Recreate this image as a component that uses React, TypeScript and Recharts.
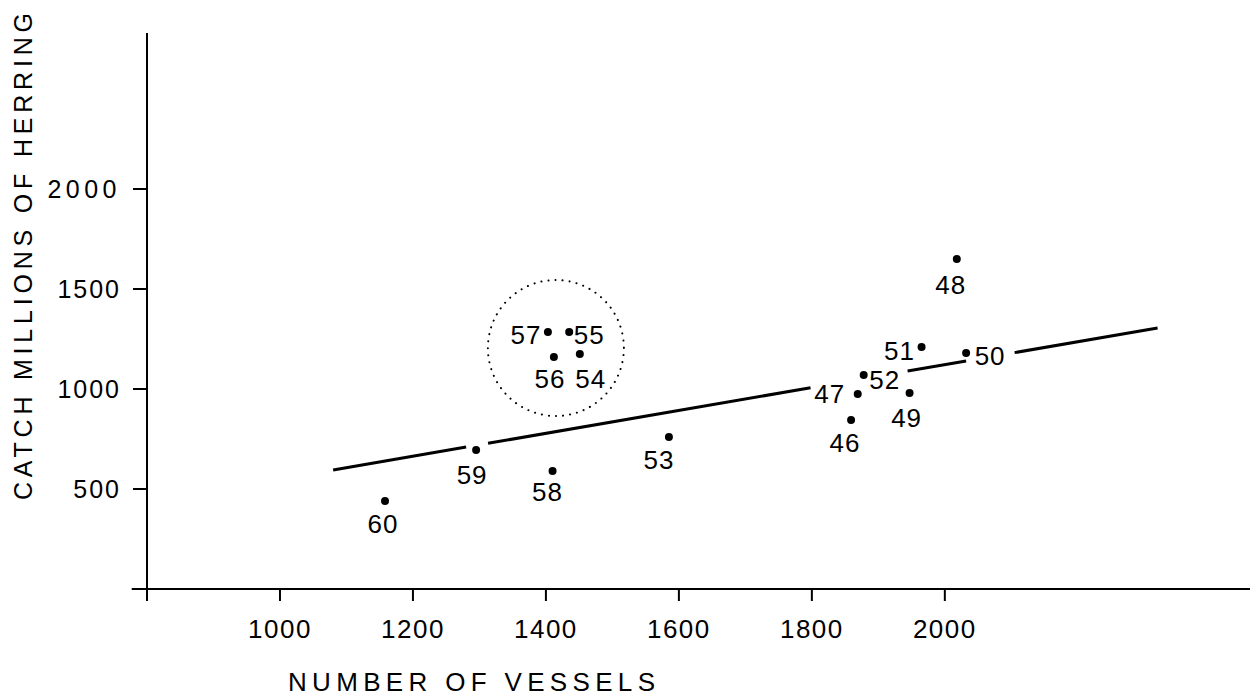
import React from "react";
import { ScatterChart, XAxis, YAxis, Scatter, ReferenceLine, ReferenceDot } from "recharts";

// year labels (19xx), number of vessels, catch in millions of herring
const years = ["46", "47", "48", "49", "50", "51", "52", "53", "54", "55", "56", "57", "58", "59", "60"];
const vessels = [1859, 1869, 2018, 1947, 2032, 1965, 1878, 1585, 1451, 1435, 1412, 1403, 1410, 1295, 1158];
const catchMillions = [845, 975, 1650, 980, 1180, 1210, 1070, 760, 1175, 1285, 1160, 1285, 590, 695, 440];

const xTicks = [800, 1000, 1200, 1400, 1600, 1800, 2000];
const yTicks = [0, 500, 1000, 1500, 2000];

// fitted line: catch = a + b * vessels, drawn in pieces broken around the labels
const fitA = 595 - 0.5726 * 1080;
const fitB = 0.5726;
const segFrom = [1080, 1313, 1944, 2105];
const segTo = [1280, 1798, 2032, 2320];

// ringed group 1954-57
const ringX = 1415;
const ringY = 1205;

const FONT = "Liberation Sans, Arial, sans-serif";

// label offset from the dot (px)
const labelOffset: Record<string, [number, number]> = {
    "46": [-6, 23], "47": [-28, 0], "48": [-6, 26], "49": [-3, 25], "50": [24, 3],
    "51": [-22, 4], "52": [21, 5], "53": [-10, 23], "54": [11, 25], "55": [20, 3],
    "56": [-4, 22], "57": [-22, 3], "58": [-5, 21], "59": [-4, 25], "60": [-2, 23],
};

const points = years.map((y, i) => ({ year: y, x: vessels[i], y: catchMillions[i] }));

function Dot(props: any) {
    const { cx, cy, payload } = props;
    const [dx, dy] = labelOffset[payload.year];
    return (
        <g>
            <circle cx={cx} cy={cy} r={4} fill="#000" />
            <text x={cx + dx} y={cy + dy} textAnchor="middle" dominantBaseline="central"
                fontFamily={FONT} fontSize={26} letterSpacing={1} fill="#000">
                {payload.year}
            </text>
        </g>
    );
}

function XTick(props: any) {
    const { x, y, payload } = props;
    if (payload.value === 800) return null;
    return (
        <text x={x} y={y + 26} textAnchor="middle" dominantBaseline="central"
            fontFamily={FONT} fontSize={26} letterSpacing={1.5} fill="#000">
            {payload.value}
        </text>
    );
}

function YTick(props: any) {
    const { x, y, payload } = props;
    if (payload.value === 0) return null;
    return (
        <text x={x - 10} y={y} textAnchor="end" dominantBaseline="central"
            fontFamily={FONT} fontSize={25} letterSpacing={payload.value === 2000 ? 4.5 : 2} fill="#000">
            {payload.value}
        </text>
    );
}

export default function App() {
    return (
        <div style={{ position: "absolute", left: 0, top: 0, background: "#fff" }}>
            <ScatterChart width={1250} height={696} margin={{ top: 33, right: 0, bottom: 0, left: 0 }}>
                <XAxis type="number" dataKey="x" domain={[800, 2459]} ticks={xTicks} height={107}
                    axisLine={{ stroke: "#000", strokeWidth: 2 }} tickLine={{ stroke: "#000", strokeWidth: 2 }}
                    tickSize={12} tick={<XTick />} interval={0}
                    label={{
                        content: () => (
                            <text x={288} y={682} textLength={367} lengthAdjust="spacing" dominantBaseline="central"
                                fontFamily={FONT} fontSize={26} fill="#000">NUMBER OF VESSELS</text>
                        ),
                    }} />
                <YAxis type="number" dataKey="y" domain={[0, 2780]} ticks={yTicks} width={147}
                    axisLine={{ stroke: "#000", strokeWidth: 2 }} tickLine={{ stroke: "#000", strokeWidth: 2 }}
                    tickSize={14} tick={<YTick />} interval={0}
                    label={{
                        content: () => (
                            <text x={23} y={500} transform="rotate(-90 23 500)" textLength={487} lengthAdjust="spacing"
                                dominantBaseline="central" fontFamily={FONT} fontSize={25} fill="#000">
                                CATCH MILLIONS OF HERRING
                            </text>
                        ),
                    }} />
                <ReferenceLine ifOverflow="visible" stroke="#000" strokeWidth={2}
                    segment={[{ x: 777, y: 0 }, { x: 800, y: 0 }]} />
                {segFrom.map((x0, i) => (
                    <ReferenceLine key={i} ifOverflow="visible" stroke="#000" strokeWidth={3}
                        segment={[{ x: x0, y: fitA + fitB * x0 }, { x: segTo[i], y: fitA + fitB * segTo[i] }]} />
                ))}
                <ReferenceDot x={ringX} y={ringY} r={68} fill="none" stroke="#000" strokeWidth={2}
                    strokeDasharray="0.1 7" strokeLinecap="round" ifOverflow="visible" />
                <Scatter data={points} shape={<Dot />} isAnimationActive={false} />
            </ScatterChart>
        </div>
    );
}
